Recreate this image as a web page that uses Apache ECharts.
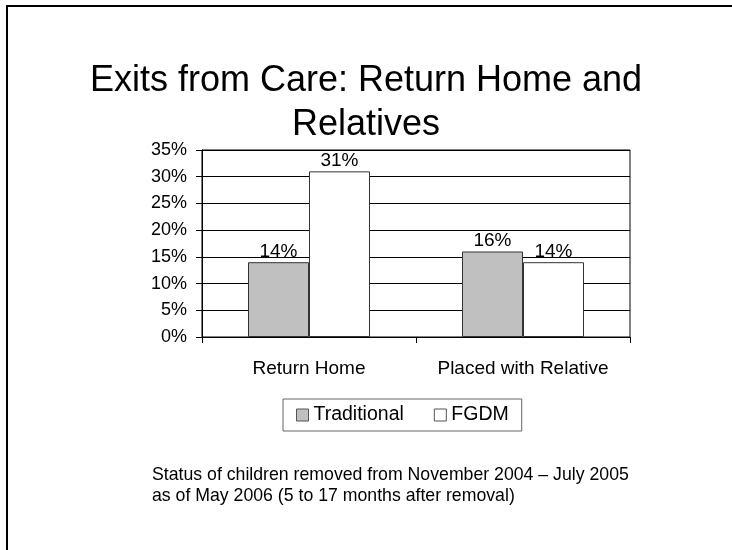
<!DOCTYPE html>
<html lang="en">
    <head>
        <meta charset="UTF-8"/>
        <script src="https://cdn.jsdelivr.net/npm/echarts@6/dist/echarts.min.js"></script>
        <title>Exits from Care</title>
        <style>
            body { margin: 0; background: #fff; }
        </style>
    </head>
    <body>
        <div id="main" style="width: 732px;height:550px;"></div>
        <script type="text/javascript">

            // data
            var categories = ['Return Home', 'Placed with Relative'];
            var seriesNames = ['Traditional', 'FGDM'];
            var traditional = [0.14, 0.16];
            var fgdm = [0.31, 0.14];
            var yTicks = [0, 0.05, 0.10, 0.15, 0.20, 0.25, 0.30, 0.35];

            var font = 'Arial, "Liberation Sans", sans-serif';

            function pct(v) {
                return Math.round(v * 100) + '%';
            }

            var myChart = echarts.init(document.getElementById('main'));

            option = {
                backgroundColor: '#fff',
                animation: false,
                textStyle: { fontFamily: font, color: '#000' },

                title: {
                    text: 'Exits from Care: Return Home and\nRelatives',
                    left: 'center',
                    top: 54,
                    textStyle: {
                        fontFamily: font,
                        fontSize: 36,
                        fontWeight: 'normal',
                        color: '#000',
                        lineHeight: 44,
                        align: 'center'
                    }
                },

                legend: {
                    data: seriesNames,
                    left: 283,
                    top: 399,
                    padding: [6, 13],
                    itemGap: 30,
                    itemWidth: 12,
                    itemHeight: 12,
                    icon: 'rect',
                    borderColor: '#666',
                    borderWidth: 1,
                    itemStyle: { borderColor: '#555', borderWidth: 1 },
                    textStyle: { fontFamily: font, fontSize: 19.5, color: '#000' }
                },

                grid: {
                    left: 202,
                    right: 102,
                    top: 150,
                    bottom: 213,
                    show: true,
                    borderColor: '#000',
                    borderWidth: 1
                },

                xAxis: {
                    type: 'category',
                    data: categories,
                    axisLine: { lineStyle: { color: '#000', width: 1 } },
                    axisTick: { show: true, length: 6, lineStyle: { color: '#000' } },
                    axisLabel: {
                        interval: 0, hideOverlap: false,
                        margin: 22, fontSize: 19, color: '#000', fontFamily: font
                    }
                },

                yAxis: {
                    type: 'value',
                    min: yTicks[0],
                    max: yTicks[yTicks.length - 1],
                    interval: 0.05,
                    axisLine: { show: true, lineStyle: { color: '#000', width: 1 } },
                    axisTick: { show: true, length: 6, lineStyle: { color: '#000' } },
                    axisLabel: { margin: 15, fontSize: 18, color: '#000', fontFamily: font, formatter: pct },
                    splitLine: { show: true, lineStyle: { color: '#000', width: 1 } }
                },

                series: [
                    {
                        name: seriesNames[0],
                        type: 'bar',
                        data: traditional,
                        barGap: 0,
                        barCategoryGap: '43%',
                        itemStyle: { color: '#c0c0c0', borderColor: '#333', borderWidth: 1 },
                        label: {
                            show: true, position: 'top', distance: 1,
                            fontSize: 19, color: '#000', fontFamily: font,
                            formatter: function (p) { return pct(p.value); }
                        }
                    },
                    {
                        name: seriesNames[1],
                        type: 'bar',
                        data: fgdm,
                        itemStyle: { color: '#fff', borderColor: '#333', borderWidth: 1 },
                        label: {
                            show: true, position: 'top', distance: 1,
                            fontSize: 19, color: '#000', fontFamily: font,
                            formatter: function (p) { return pct(p.value); }
                        }
                    }
                ],

                graphic: [
                    {
                        type: 'rect',
                        shape: { x: 7, y: 6, width: 900, height: 700 },
                        style: { fill: 'none', stroke: '#000', lineWidth: 2 },
                        silent: true
                    },
                    {
                        type: 'text',
                        left: 152,
                        top: 465,
                        style: {
                            text: 'Status of children removed from November 2004 \u2013 July 2005\nas of May 2006 (5 to 17 months after removal)',
                            font: '17.7px ' + font,
                            fill: '#000',
                            lineHeight: 21
                        }
                    }
                ]
            };

            myChart.setOption(option);

        </script>
    </body>
</html>
